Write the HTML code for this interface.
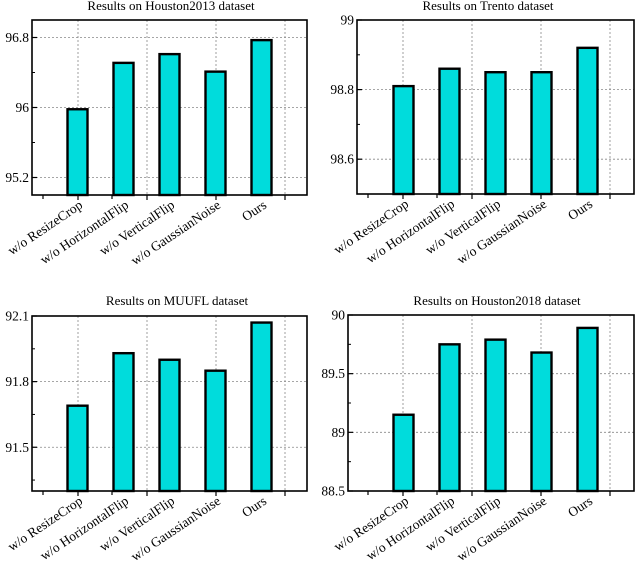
<!DOCTYPE html>
<html><head><meta charset="utf-8"><style>
html,body{margin:0;padding:0;background:#fff;}
svg{display:block;font-family:"Liberation Serif",serif;}
</style></head><body>
<svg id="c" width="636" height="564" xmlns="http://www.w3.org/2000/svg"></svg>
<script>
const categories = ["w/o ResizeCrop","w/o HorizontalFlip","w/o VerticalFlip","w/o GaussianNoise","Ours"];
const houston2013Values = [95.98, 96.51, 96.61, 96.41, 96.77];
const trentoValues = [98.81, 98.86, 98.85, 98.85, 98.92];
const muuflValues = [91.69, 91.93, 91.90, 91.85, 92.07];
const houston2018Values = [89.15, 89.75, 89.79, 89.68, 89.89];
const houston2013Ticks = ["95.2","96","96.8"];
const trentoTicks = ["98.6","98.8","99"];
const muuflTicks = ["91.5","91.8","92.1"];
const houston2018Ticks = ["88.5","89","89.5","90"];
const titles = ["Results on Houston2013 dataset","Results on Trento dataset","Results on MUUFL dataset","Results on Houston2018 dataset"];

const NS="http://www.w3.org/2000/svg";
const svg=document.getElementById('c');
function mk(tag,attrs,parent){const e=document.createElementNS(NS,tag);for(const k in attrs)e.setAttribute(k,attrs[k]);(parent||svg).appendChild(e);return e;}

const panels=[
 {values:houston2013Values,ticks:houston2013Ticks,min:95.0,max:97.0,minor:[95.6,96.4],x0:32,x1:307,y0:20,y1:195,c0:77.5,g0:78,tx:171,ty:10,name:'houston2013'},
 {values:trentoValues,ticks:trentoTicks,min:98.5,max:99.0,minor:[98.7,98.9],x0:357,x1:634,y0:20,y1:194,c0:403.5,g0:403,tx:488,ty:10,name:'trento'},
 {values:muuflValues,ticks:muuflTicks,min:91.3,max:92.1,minor:[91.35,91.65,91.95],x0:32,x1:307,y0:316,y1:491,c0:77.5,g0:78,tx:177,ty:305,name:'muufl'},
 {values:houston2018Values,ticks:houston2018Ticks,min:88.5,max:90.0,minor:[88.75,89.25,89.75],x0:348,x1:634,y0:315,y1:491,c0:403.5,g0:403,tx:497,ty:305,name:'houston2018'}
];

panels.forEach((p,pi)=>{
  const g=mk('g',{});
  
  
  const y=v=>p.y1-(v-p.min)/(p.max-p.min)*(p.y1-p.y0);
  const xc=i=>p.c0+46*i;
  const t=mk('text',{x:p.tx,y:p.ty,'text-anchor':'middle','font-size':13},g);
  t.textContent=titles[pi];
  
  
  for(let k=0;k<4;k++){
    const gx=p.g0+69*k;
    const l=mk('line',{x1:gx,x2:gx,y1:p.y0,y2:p.y1,stroke:'#888','stroke-width':0.8,'stroke-dasharray':'2,2'},g);
    
    
    mk('line',{x1:gx,x2:gx,y1:p.y1,y2:p.y1+5,stroke:'#000','stroke-width':1.2},g);
  }
  mk('line',{x1:p.g0-35,x2:p.g0-35,y1:p.y1,y2:p.y1+4,stroke:'#000','stroke-width':1.2},g);
  mk('line',{x1:p.g0+34,x2:p.g0+34,y1:p.y1,y2:p.y1+4,stroke:'#000','stroke-width':1.2},g);
  p.ticks.forEach(s=>{
    const v=parseFloat(s),yy=y(v);
    const l=mk('line',{x1:p.x0,x2:p.x1,y1:yy,y2:yy,stroke:'#888','stroke-width':0.8,'stroke-dasharray':'2,2'},g);
    
    
    mk('line',{x1:p.x0,x2:p.x0+5,y1:yy,y2:yy,stroke:'#000','stroke-width':1.2},g);
    const tl=mk('text',{x:p.x0-3,y:yy+4.5,'text-anchor':'end','font-size':13.5},g);
    tl.textContent=s;
    
    
  });
  p.minor.forEach(v=>mk('line',{x1:p.x0,x2:p.x0+3,y1:y(v),y2:y(v),stroke:'#000','stroke-width':1},g));
  p.values.forEach((v,i)=>{
    const b=mk('rect',{x:xc(i)-10,y:y(v),width:20,height:p.y1-y(v),fill:'#00dcdc',stroke:'#000','stroke-width':2.4},g);
    
    
    const cl=mk('text',{x:0,y:0,'text-anchor':'end','font-size':13.5,transform:`translate(${xc(i)+6},${p.y1+12}) rotate(-34)`},g);
    cl.textContent=categories[i];
    
    
  });
  const f=mk('rect',{x:p.x0,y:p.y0,width:p.x1-p.x0,height:p.y1-p.y0,fill:'none',stroke:'#000','stroke-width':1.6},g);
  
  
});
</script>
</body></html>
